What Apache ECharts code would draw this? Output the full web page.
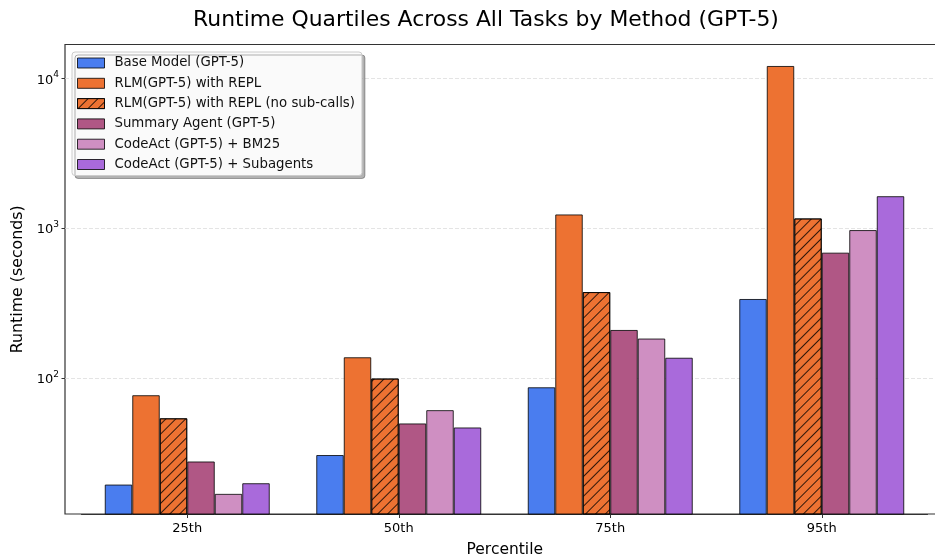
<!DOCTYPE html>
<html>
<head>
<meta charset="utf-8">
<script src="https://cdn.jsdelivr.net/npm/echarts@6/dist/echarts.min.js"></script>
<style>html,body{margin:0;padding:0;background:#fff;}#c{width:935px;height:558px;}</style>
</head>
<body>
<div id="c"></div>
<script>
const categories = ['25th', '50th', '75th', '95th'];
const baseModel = [19.5, 30.7, 87, 338];
const rlmRepl = [77, 138, 1240, 12150];
const rlmNoSub = [54, 99.5, 376, 1166];
const summaryAgent = [27.8, 49.9, 210, 689];
const codeactBm25 = [16.9, 61.2, 184, 975];
const codeactSub = [19.9, 46.9, 137, 1641];
const majorTicks = [100, 1000, 10000];
const minorTicks = [20, 30, 40, 50, 60, 70, 80, 90, 200, 300, 400, 500, 600, 700, 800, 900, 2000, 3000, 4000, 5000, 6000, 7000, 8000, 9000];
const yMin = 12.4, yMax = 16900;

const FONT = 'DejaVu Sans';
const chart = echarts.init(document.getElementById('c'), null, {renderer: 'canvas'});
const edge = {borderColor: 'rgba(0,0,0,0.8)', borderWidth: 1};
function bar(name, data, color, extra) {
  return {
    name: name, type: 'bar', data: data, xAxisIndex: 1, yAxisIndex: 2,
    barWidth: 27.5, barGap: '0%',
    itemStyle: Object.assign({color: color}, edge, extra || {})
  };
}
const option = {
  animation: false,
  backgroundColor: '#ffffff',
  textStyle: {fontFamily: FONT},
  title: {
    text: 'Runtime Quartiles Across All Tasks by Method (GPT-5)',
    left: 481, top: 4, textAlign: 'center',
    textStyle: {fontFamily: FONT, fontSize: 21.9, fontWeight: 'normal', color: '#000'}
  },
  legend: {
    orient: 'vertical', left: 72, top: 52,
    padding: [4, 7, 4, 5],
    icon: 'rect',
    itemWidth: 27, itemHeight: 10, itemGap: 6.3,
    backgroundColor: '#fafafa',
    borderColor: '#cccccc', borderWidth: 1, borderRadius: 3,
    shadowColor: 'rgba(0,0,0,0.3)', shadowOffsetX: 3, shadowOffsetY: 3, shadowBlur: 0,
    textStyle: {fontFamily: FONT, fontSize: 13.3, color: '#111', lineHeight: 14, padding: [0, 0, 0, 5]},
    itemStyle: {borderColor: 'rgba(0,0,0,0.8)', borderWidth: 1}
  },
  grid: [
    {left: 65, top: 44.5, width: 879.5, height: 469.5, show: true, borderColor: '#333', borderWidth: 1.2, backgroundColor: 'transparent', containLabel: false, outerBoundsMode: 'none'},
    {left: 81.5, top: 44.5, width: 846, height: 469.5, containLabel: false, outerBoundsMode: 'none'}
  ],
  xAxis: [
    {gridIndex: 0, type: 'value', min: 0, max: 1,
     axisLine: {show: false}, axisTick: {show: false}, axisLabel: {show: false}, splitLine: {show: false},
     name: 'Percentile', nameLocation: 'middle', nameGap: 28,
     nameTextStyle: {fontFamily: FONT, fontSize: 15.5, color: '#000'}},
    {gridIndex: 1, type: 'category', data: categories,
     axisLine: {show: true, lineStyle: {color: '#333', width: 1.2}},
     axisTick: {show: true, alignWithLabel: true, length: 4, lineStyle: {color: '#333'}},
     axisLabel: {fontFamily: FONT, fontSize: 13, color: '#000', margin: 8},
     splitLine: {show: false}}
  ],
  yAxis: [
    {gridIndex: 0, type: 'log', logBase: 10, min: yMin, max: yMax,
     axisLine: {show: false},
     axisTick: {show: true, customValues: majorTicks, length: 3.5, lineStyle: {color: '#333'}},
     axisLabel: {customValues: majorTicks, margin: 6, color: '#000',
       formatter: function (v) { return '{b|10}{s|' + Math.round(Math.log10(v)) + '}'; },
       rich: {b: {fontFamily: FONT, fontSize: 13, color: '#000', verticalAlign: 'bottom'},
              s: {fontFamily: FONT, fontSize: 9, color: '#000', verticalAlign: 'top', padding: [0, 0, 7, 0]}}},
     splitLine: {show: true, lineStyle: {color: '#dddddd', type: [4, 2], width: 0.8}},
     name: 'Runtime (seconds)', nameLocation: 'middle', nameGap: 38,
     nameTextStyle: {fontFamily: FONT, fontSize: 15.8, color: '#000'}},
    {gridIndex: 0, type: 'log', logBase: 10, min: yMin, max: yMax,
     axisLine: {show: false},
     axisTick: {show: true, customValues: minorTicks, length: 2, lineStyle: {color: '#333', width: 0.8}},
     axisLabel: {show: false}, splitLine: {show: false}},
    {gridIndex: 1, type: 'log', logBase: 10, min: yMin, max: yMax, show: false,
     splitLine: {show: false}}
  ],
  series: [
    bar('Base Model (GPT-5)', baseModel, '#4a7def'),
    bar('RLM(GPT-5) with REPL', rlmRepl, '#ed7232'),
    bar('RLM(GPT-5) with REPL (no sub-calls)', rlmNoSub, '#ed7232', {
      decal: {symbol: 'rect', symbolSize: 1, dashArrayX: [1, 0], dashArrayY: [1, 6], rotation: -Math.PI / 4, color: 'rgba(0,0,0,0.8)'}
    }),
    bar('Summary Agent (GPT-5)', summaryAgent, '#b05785'),
    bar('CodeAct (GPT-5) + BM25', codeactBm25, '#cf8fc2'),
    bar('CodeAct (GPT-5) + Subagents', codeactSub, '#a96adb')
  ]
};
chart.setOption(option);
</script>
</body>
</html>
